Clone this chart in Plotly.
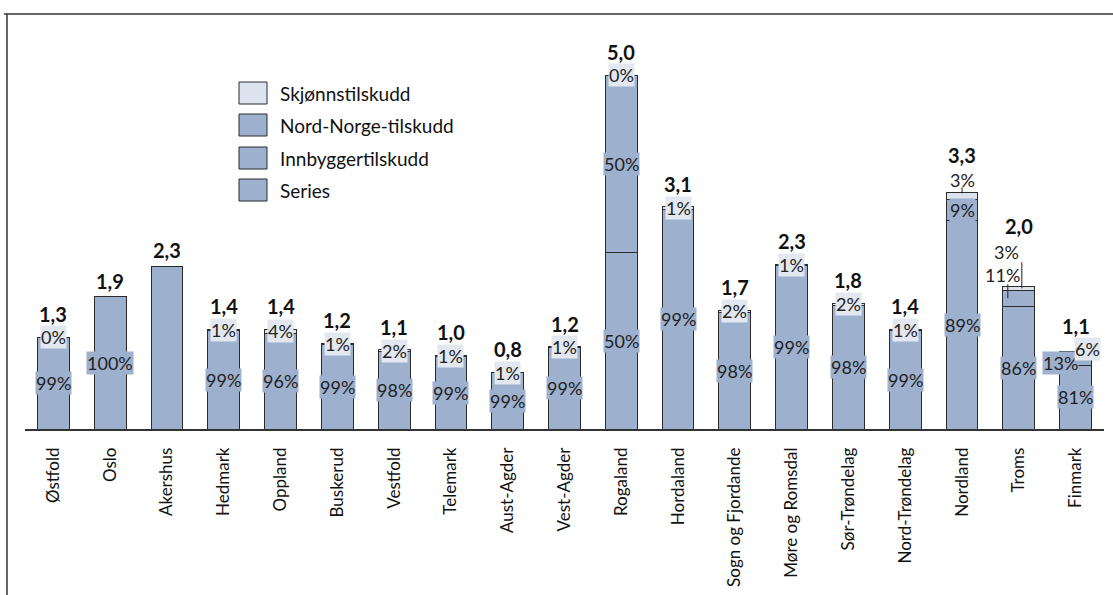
import plotly.graph_objects as go

# ---------------- data ----------------
categories = ["Østfold", "Oslo", "Akershus", "Hedmark", "Oppland", "Buskerud", "Vestfold",
              "Telemark", "Aust-Agder", "Vest-Agder", "Rogaland", "Hordaland",
              "Sogn og Fjordande", "Møre og Romsdal", "Sør-Trøndelag", "Nord-Trøndelag",
              "Nordland", "Troms", "Finmark"]
totals = [1.30, 1.87, 2.30, 1.41, 1.41, 1.21, 1.12, 1.04, 0.80, 1.16, 5.00, 3.14,
          1.68, 2.33, 1.78, 1.41, 3.34, 2.02, 1.10]
series_pct = [0, 0, 100, 0, 0, 0, 0, 0, 0, 0, 50, 0, 0, 0, 0, 0, 0, 0, 0]
innb_pct = [99, 100, 0, 99, 96, 99, 98, 99, 99, 99, 50, 99, 98, 99, 98, 99, 89, 86, 81]
nn_pct = [0, 0, 0, 0, 0, 0, 0, 0, 0, 0, 0, 0, 0, 0, 0, 0, 9, 11, 13]
skj_pct = [0, None, None, 1, 4, 1, 2, 1, 1, 1, 0, 1, 2, 1, 2, 1, 3, 3, 6]
series_labelled = ["Rogaland"]

legend_names = ["Skjønnstilskudd", "Nord-Norge-tilskudd", "Innbyggertilskudd", "Series"]

# ---------------- style ----------------
FONT = "Lato"
BAR = "#9DB0CE"
LIGHT = "#DDE3EE"
LIGHT_BG = "#E2E7F0"
EDGE = "#2b2b2b"

# plot geometry (pixels)
W, H = 1113, 595
ML, MR, MT, MB = 25, 9, 40, 166
PW, PH = W - ML - MR, H - MT - MB
YMAX = 5.5


def px2x(px):
    return (px - ML) / PW


def py2y(py):
    return (H - MB - py) / PH


# segment heights
ser_h, innb_h, nn_h, skj_h = [], [], [], []
for t, s, i, n, k in zip(totals, series_pct, innb_pct, nn_pct, skj_pct):
    kk = k if k is not None else 0
    tot = s + i + n + kk
    ser_h.append(t * s / tot)
    innb_h.append(t * i / tot)
    nn_h.append(t * n / tot)
    skj_h.append(t * kk / tot)

fig = go.Figure()
for name, vals, col in [("Series", ser_h, BAR), ("Innbyggertilskudd", innb_h, BAR),
                        ("Nord-Norge-tilskudd", nn_h, BAR), ("Skjønnstilskudd", skj_h, LIGHT)]:
    fig.add_trace(go.Bar(x=categories, y=vals, name=name, showlegend=False,
                         marker=dict(color=col, line=dict(color=EDGE, width=1)),
                         hoverinfo="x+y+name"))

annotations = []
shapes = []

# special label placement (pixel offsets relative to segment centre)
special = {
    ("Nordland", "skj"): dict(dx=0, dy=16, lead=(0, 0, 3, 9)),
    ("Troms", "skj"): dict(dx=-12, dy=36, lead=(3, 3, 0, 26)),
    ("Troms", "nn"): dict(dx=-16, dy=23, lead=(-11, -11, 0, 14)),
    ("Finmark", "nn"): dict(dx=-15, dy=-2),
    ("Finmark", "skj"): dict(dx=12, dy=5),
}
total_shift = {"Nordland": 38, "Troms": 60, "Finmark": 25}


def pct_label(idx, cat, kind, yc, pct, bg):
    sp = special.get((cat, kind))
    dx, dy = (sp["dx"], sp["dy"]) if sp else (0, 0)
    outside = sp is not None and "lead" in sp
    annotations.append(dict(
        x=cat, y=yc, xref="x", yref="y", text=f"{pct}%", showarrow=False,
        xshift=dx, yshift=dy, font=dict(family=FONT, size=18, color="#222"),
        bgcolor=None if outside else bg, borderpad=0))
    if outside:
        x0, x1, y0, y1 = sp["lead"]
        shapes.append(dict(type="line", xref="x", yref="y", xsizemode="pixel",
                           ysizemode="pixel", xanchor=idx, yanchor=yc,
                           x0=x0, x1=x1, y0=y0, y1=y1,
                           line=dict(color="#222", width=1)))


for idx, cat in enumerate(categories):
    base = 0.0
    if ser_h[idx] > 0 and cat in series_labelled:
        pct_label(idx, cat, "ser", ser_h[idx] / 2, series_pct[idx], BAR)
    base += ser_h[idx]
    if innb_pct[idx] > 0:
        pct_label(idx, cat, "innb", base + innb_h[idx] / 2, innb_pct[idx], BAR)
    base += innb_h[idx]
    if nn_pct[idx] > 0:
        pct_label(idx, cat, "nn", base + nn_h[idx] / 2, nn_pct[idx], BAR)
    base += nn_h[idx]
    if skj_pct[idx] is not None:
        pct_label(idx, cat, "skj", base + skj_h[idx] / 2, skj_pct[idx], LIGHT_BG)
    # total
    shift = total_shift.get(cat, 23 if skj_pct[idx] is not None else 16)
    annotations.append(dict(
        x=cat, y=totals[idx], xref="x", yref="y",
        text=f"<b>{totals[idx]:.1f}</b>".replace(".", ","), showarrow=False,
        yshift=shift, font=dict(family=FONT, size=20, color="#111")))

# manual legend
leg_y = [93, 125, 158, 190]
leg_cols = [LIGHT, BAR, BAR, BAR]
for name, yc, col in zip(legend_names, leg_y, leg_cols):
    shapes.append(dict(type="rect", xref="paper", yref="paper",
                       x0=px2x(239), x1=px2x(267), y0=py2y(yc + 11), y1=py2y(yc - 11),
                       fillcolor=col, line=dict(color=EDGE, width=1)))
    annotations.append(dict(x=px2x(278), y=py2y(yc), xref="paper", yref="paper",
                            xanchor="left", yanchor="middle", text=name, showarrow=False,
                            font=dict(family=FONT, size=19, color="#111")))

# outer frame (top and left edges)
shapes.append(dict(type="line", xref="paper", yref="paper", x0=px2x(4), x1=px2x(1113),
                   y0=py2y(14), y1=py2y(14), line=dict(color="#333", width=1.5)))
shapes.append(dict(type="line", xref="paper", yref="paper", x0=px2x(7), x1=px2x(7),
                   y0=py2y(14), y1=py2y(595), line=dict(color="#333", width=1.5)))

fig.update_layout(
    barmode="stack", bargap=0.44,
    width=W, height=H, margin=dict(l=ML, r=MR, t=MT, b=MB, autoexpand=False),
    paper_bgcolor="white", plot_bgcolor="white",
    font=dict(family=FONT, size=17, color="#111"),
    annotations=annotations, shapes=shapes,
    xaxis=dict(type="category", showline=True, linecolor="#333", linewidth=1.5,
               showgrid=False, ticks="", tickangle=-90, ticklabelstandoff=10,
               tickfont=dict(family=FONT, size=17, color="#111"), fixedrange=True),
    yaxis=dict(range=[0, YMAX], visible=False, showgrid=False, fixedrange=True),
)

fig.write_html("out.html")
